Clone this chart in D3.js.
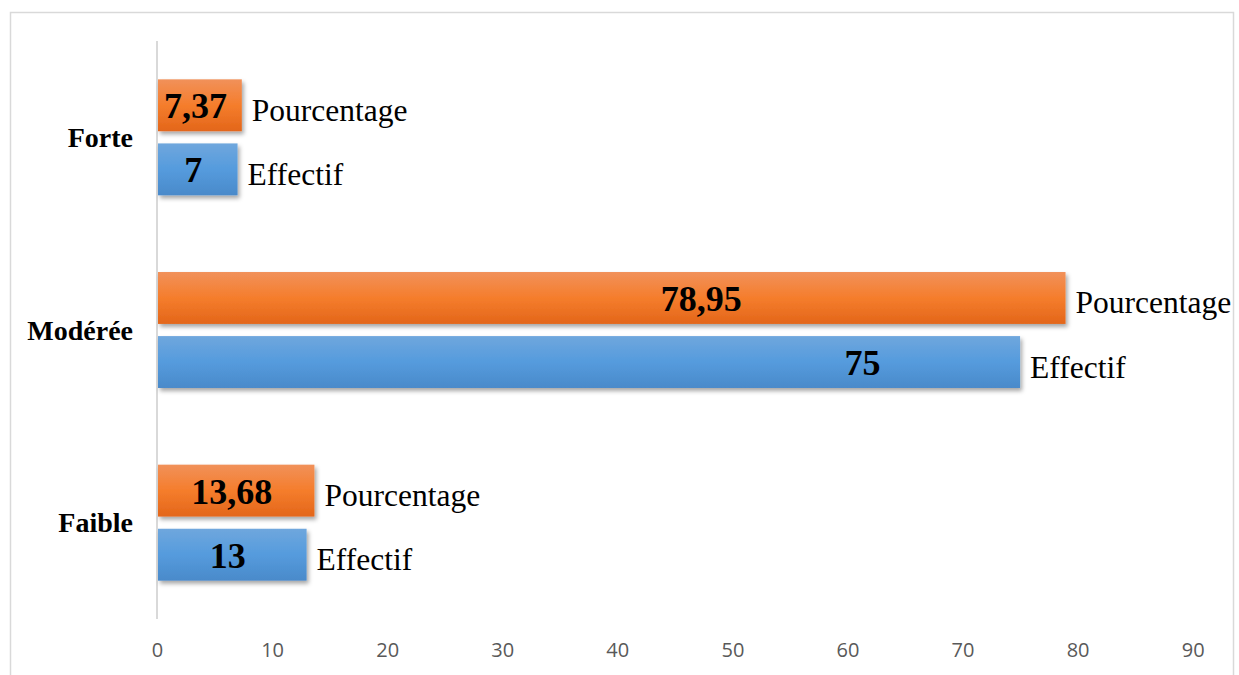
<!DOCTYPE html>
<html>
<head>
<meta charset="utf-8">
<script src="https://cdn.jsdelivr.net/npm/d3@7"></script>
<style>
  html, body { margin: 0; padding: 0; background: #fff; }
  svg { display: block; }
</style>
</head>
<body>
<svg id="chart" width="1239" height="675"></svg>
<script>
// Categories, top to bottom
const categories = ["Forte", "Modérée", "Faible"];
// Series, in drawing order within each category (top bar first)
const seriesNames = ["Pourcentage", "Effectif"];
const pourcentage = [7.37, 78.95, 13.68];
const effectif = [7, 75, 13];
const valueLabels = {
  Pourcentage: ["7,37", "78,95", "13,68"],
  Effectif: ["7", "75", "13"]
};
// Where each value label sits along the bar (in axis units); null = bar centre
const labelAnchor = {
  Pourcentage: [null, 47.3, null],
  Effectif: [null, 61.3, null]
};
const xTicks = [0, 10, 20, 30, 40, 50, 60, 70, 80, 90];

const seriesValues = { Pourcentage: pourcentage, Effectif: effectif };

const svg = d3.select("#chart");

// Outer chart frame
svg.append("rect")
  .attr("x", 10.5).attr("y", 12.5)
  .attr("width", 1223).attr("height", 700)
  .attr("fill", "#fff").attr("stroke", "#d9d9d9").attr("stroke-width", 1.5);

const defs = svg.append("defs");
function grad(id, stops) {
  const g = defs.append("linearGradient").attr("id", id)
    .attr("x1", 0).attr("y1", 0).attr("x2", 0).attr("y2", 1);
  stops.forEach(([o, c]) => g.append("stop").attr("offset", o).attr("stop-color", c));
}
grad("gradOrange", [[0, "#f1915a"], [0.5, "#f57d2c"], [1, "#e3661a"]]);
grad("gradBlue", [[0, "#6fa7dd"], [0.5, "#559bdd"], [1, "#4a8aca"]]);

const shadow = defs.append("filter").attr("id", "shadow")
  .attr("x", "-5%").attr("y", "-20%").attr("width", "115%").attr("height", "160%");
shadow.append("feDropShadow")
  .attr("dx", 2).attr("dy", 3).attr("stdDeviation", 2.2)
  .attr("flood-color", "#000").attr("flood-opacity", 0.35);

const fills = { Pourcentage: "url(#gradOrange)", Effectif: "url(#gradBlue)" };

const plot = { left: 157, right: 1192.7, top: 41, bottom: 619 };

const x = d3.scaleLinear().domain([0, 90]).range([plot.left, plot.right]);
const y0 = d3.scaleBand().domain(categories).range([plot.top, plot.bottom]).paddingInner(0.398).paddingOuter(0.199);
const y1 = d3.scaleBand().domain(seriesNames).range([0, y0.bandwidth()]).paddingInner(0.19);

// Vertical category axis line
svg.append("line")
  .attr("x1", x(0)).attr("x2", x(0))
  .attr("y1", plot.top).attr("y2", plot.bottom)
  .attr("stroke", "#d9d9d9").attr("stroke-width", 2);

// X tick labels (no axis line)
const xAxis = d3.axisBottom(x).tickValues(xTicks).tickSize(0).tickPadding(0);
const gx = svg.append("g").attr("transform", `translate(0, ${plot.bottom + 31})`).call(xAxis);
gx.select(".domain").remove();
gx.selectAll("text")
  .attr("font-family", "'Open Sans', 'Noto Sans', sans-serif")
  .attr("font-size", 20)
  .attr("fill", "#595959")
  .attr("dy", "0.35em");

// Category labels
svg.append("g").selectAll("text").data(categories).join("text")
  .attr("x", 133)
  .attr("y", d => y0(d) + y0.bandwidth() / 2)
  .attr("text-anchor", "end")
  .attr("dominant-baseline", "central")
  .attr("font-family", "'Liberation Serif', 'Times New Roman', serif")
  .attr("font-weight", "bold")
  .attr("font-size", 28)
  .attr("fill", "#000")
  .text(d => d);

// Bars
const rows = [];
categories.forEach((c, i) => {
  seriesNames.forEach(s => rows.push({ cat: c, i, series: s, value: seriesValues[s][i] }));
});

const g = svg.append("g");
g.selectAll("rect.bar").data(rows).join("rect")
  .attr("class", "bar")
  .attr("x", x(0) + 1)
  .attr("y", d => y0(d.cat) + y1(d.series))
  .attr("width", d => x(d.value) - x(0) - 1)
  .attr("height", y1.bandwidth())
  .attr("fill", d => fills[d.series])
  .attr("filter", "url(#shadow)");

// Value labels inside bars
g.selectAll("text.val").data(rows).join("text")
  .attr("class", "val")
  .attr("x", d => {
    const a = labelAnchor[d.series][d.i];
    return a === null ? (x(0) + x(d.value)) / 2 - 4 : x(a);
  })
  .attr("y", d => y0(d.cat) + y1(d.series) + y1.bandwidth() / 2 + 1)
  .attr("text-anchor", "middle")
  .attr("dominant-baseline", "central")
  .attr("font-family", "'Liberation Serif', 'Times New Roman', serif")
  .attr("font-weight", "bold")
  .attr("font-size", 36)
  .attr("fill", "#000")
  .text(d => valueLabels[d.series][d.i]);

// Series name labels after bar ends
g.selectAll("text.ser").data(rows).join("text")
  .attr("class", "ser")
  .attr("x", d => x(d.value) + 10)
  .attr("y", d => y0(d.cat) + y1(d.series) + y1.bandwidth() / 2 + 5)
  .attr("dominant-baseline", "central")
  .attr("font-family", "'Liberation Serif', 'Times New Roman', serif")
  .attr("font-size", 31.5)
  .attr("fill", "#000")
  .text(d => d.series);
</script>
</body>
</html>
